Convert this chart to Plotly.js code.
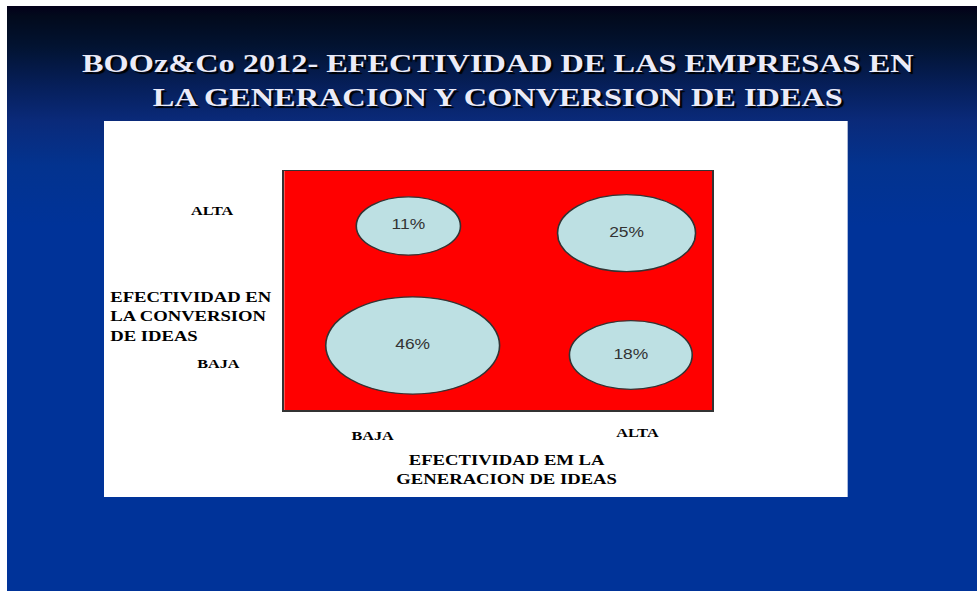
<!DOCTYPE html>
<html>
<head>
<meta charset="utf-8">
<script src="https://cdn.plot.ly/plotly-3.0.1.min.js"></script>
<style>
  html, body { margin: 0; padding: 0; background: #ffffff; width: 977px; height: 591px; overflow: hidden; }
  #slide {
    position: absolute; left: 7px; top: 6px; width: 780px; height: 585px;
    transform: scaleX(1.24359); transform-origin: 0 0;
    background: linear-gradient(to bottom, #03001a 0px, #020a1c 10px, #021331 40px, #061f5a 80px, #0a2a7a 115px, #03338f 160px, #003399 220px, #003399 585px);
    overflow: hidden;
  }
  #panel { position: absolute; left: 78px; top: 115px; width: 598px; height: 376px; background: #ffffff; }
  #chart { position: absolute; left: 0; top: 0; width: 780px; height: 585px; }
</style>
</head>
<body>
<div id="slide">
  <div id="panel"></div>
  <div id="chart"></div>
</div>
<script>
// ---- data ----
const genLevel  = ['BAJA', 'ALTA', 'BAJA', 'ALTA'];   // efectividad en la generación de ideas
const convLevel = ['ALTA', 'ALTA', 'BAJA', 'BAJA'];   // efectividad en la conversión de ideas
const share     = [11, 25, 46, 18];                   // % de empresas
const genScore  = [2.9, 8.0, 3.0, 8.1];               // position on generation axis (0-10)
const convScore = [7.7, 7.4, 2.7, 2.3];               // position on conversion axis (0-10)
const levelLabels = ['BAJA', 'ALTA'];
const titleLines = ['BOOz&amp;Co 2012- EFECTIVIDAD DE LAS EMPRESAS EN', 'LA GENERACION Y CONVERSION DE IDEAS'];
const xTitleLines = ['EFECTIVIDAD EM LA', 'GENERACION DE IDEAS'];
const yTitleLines = ['EFECTIVIDAD EN', 'LA CONVERSION', 'DE IDEAS'];

// bubble diameter scale (axis units)
const diam = p => 0.877 + 0.47 * Math.sqrt(p);

const shapes = share.map((p, i) => ({
  type: 'circle', xref: 'x', yref: 'y', layer: 'below',
  x0: genScore[i] - diam(p) / 2, x1: genScore[i] + diam(p) / 2,
  y0: convScore[i] - diam(p) / 2, y1: convScore[i] + diam(p) / 2,
  fillcolor: '#bde0e3', line: { color: '#333333', width: 1.3 }
}));

const labels = {
  type: 'scatter', mode: 'text', x: genScore, y: convScore,
  text: share.map(v => v + '%'),
  textfont: { family: 'Liberation Sans, Arial, sans-serif', size: 14, color: '#333333' },
  hoverinfo: 'skip', showlegend: false, cliponaxis: false
};

const serif = 'Liberation Serif, Times New Roman, serif';
const axFont = { family: serif, size: 15, color: '#000000', weight: 'bold' };
const tickFont = { family: serif, size: 13, color: '#000000', weight: 'bold' };

const annotations = [
  { xref: 'paper', yref: 'paper', x: -0.167, y: 0.833, text: levelLabels[1], showarrow: false, font: tickFont, xanchor: 'center', yanchor: 'middle' },
  { xref: 'paper', yref: 'paper', x: -0.153, y: 0.194, text: levelLabels[0], showarrow: false, font: tickFont, xanchor: 'center', yanchor: 'middle' },
  { xref: 'paper', yref: 'paper', x: 0.208, y: -0.107, text: levelLabels[0], showarrow: false, font: tickFont, xanchor: 'center', yanchor: 'middle' },
  { xref: 'paper', yref: 'paper', x: 0.828, y: -0.095, text: levelLabels[1], showarrow: false, font: tickFont, xanchor: 'center', yanchor: 'middle' },
  { xref: 'paper', yref: 'paper', x: 0.521, y: -0.251, text: xTitleLines.join('<br>'), showarrow: false, font: axFont, xanchor: 'center', yanchor: 'middle', align: 'center' },
  { xref: 'paper', yref: 'paper', x: -0.413, y: 0.391, text: yTitleLines.join('<br>'), showarrow: false, font: axFont, xanchor: 'left', yanchor: 'middle', align: 'left' }
];

const layout = {
  width: 780, height: 585,
  margin: { l: 223, r: 213, t: 165, b: 181, pad: 0 },
  paper_bgcolor: 'rgba(0,0,0,0)',
  plot_bgcolor: '#ff0000',
  title: {
    text: titleLines.join('<br>'),
    x: 0.506, xref: 'container', xanchor: 'center',
    y: 0.887, yref: 'container', yanchor: 'middle',
    font: { family: serif, size: 26, color: '#ebebf8', weight: 'bold', shadow: '2px 2px 1px #000000' }
  },
  xaxis: { range: [0, 10], showgrid: false, zeroline: false, showticklabels: false, ticks: '',
           showline: true, mirror: true, linecolor: '#333333', linewidth: 1.5, fixedrange: true },
  yaxis: { range: [0, 10], showgrid: false, zeroline: false, showticklabels: false, ticks: '',
           showline: true, mirror: true, linecolor: '#333333', linewidth: 1.5, fixedrange: true },
  shapes: shapes,
  annotations: annotations,
  showlegend: false
};

Plotly.newPlot('chart', [labels], layout, { staticPlot: true, displayModeBar: false });
</script>
</body>
</html>
